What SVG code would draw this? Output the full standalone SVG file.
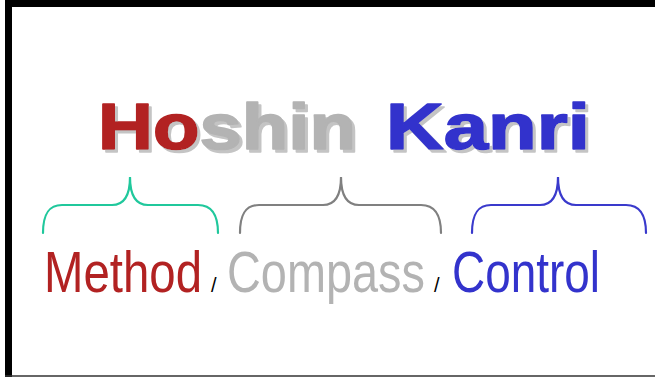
<svg xmlns="http://www.w3.org/2000/svg" width="655" height="377" viewBox="0 0 655 377">
<defs>
<filter id="shadow" x="-5%" y="-10%" width="115%" height="130%">
<feOffset in="SourceAlpha" dx="3" dy="3" result="off"/>
<feFlood flood-color="#c4c4c4" result="col"/>
<feComposite in="col" in2="off" operator="in" result="sh"/>
<feMerge><feMergeNode in="sh"/><feMergeNode in="SourceGraphic"/></feMerge>
</filter>
</defs>
<style>
.title{font-family:"Liberation Sans",Arial,sans-serif;font-weight:bold;font-size:64px;stroke-width:1.6;stroke-linejoin:round}
.word{font-family:"Liberation Sans",Arial,sans-serif;font-size:58px}
.slash{font-family:"Liberation Sans",Arial,sans-serif;font-size:20px;fill:#000}
.brace{fill:none;stroke-width:2.2;stroke-linecap:round}
</style>
<rect x="0" y="0" width="655" height="377" fill="#fff"/>
<g id="frame">
<rect x="5" y="0" width="650" height="7" fill="#000"/>
<rect x="5" y="0" width="7" height="377" fill="#000"/>
<line x1="5" y1="376" x2="655" y2="376" stroke="#333" stroke-width="1.5"/>
</g>
<g id="title" filter="url(#shadow)">
<text class="title" x="98" y="149" textLength="258" lengthAdjust="spacingAndGlyphs"><tspan fill="#b22222" stroke="#b22222">Ho</tspan><tspan fill="#b3b3b3" stroke="#b3b3b3">shin</tspan></text>
<text class="title" x="386" y="149" fill="#3333cc" stroke="#3333cc" textLength="204" lengthAdjust="spacingAndGlyphs">Kanri</text>
</g>
<g id="connectors">
<path class="brace" stroke="#20c89c" d="M43,233 C43,215 48,205 62,205 L112,205 C124,205 130,195 130,177 C130,195 136,205 148,205 L198,205 C212,205 218,215 218,233"/>
<path class="brace" stroke="#808080" d="M240,233 C240,215 245,205 259,205 L323,205 C335,205 341,195 341,177 C341,195 347,205 359,205 L421,205 C435,205 441,215 441,233"/>
<path class="brace" stroke="#3a3acc" d="M472,233 C472,215 477,205 491,205 L540,205 C552,205 558,195 558,177 C558,195 564,205 576,205 L626,205 C640,205 646,215 646,233"/>
</g>
<g id="method">
<text class="word" transform="translate(44,292) scale(0.817,1)" fill="#b22222">Method</text>
</g>
<text class="slash" x="211" y="292">/</text>
<g id="compass">
<text class="word" transform="translate(227,292) scale(0.808,1)" fill="#b3b3b3">Compass</text>
</g>
<text class="slash" x="434" y="292">/</text>
<g id="control">
<text class="word" transform="translate(452,292) scale(0.792,1)" fill="#3333cc">Control</text>
</g>
</svg>
